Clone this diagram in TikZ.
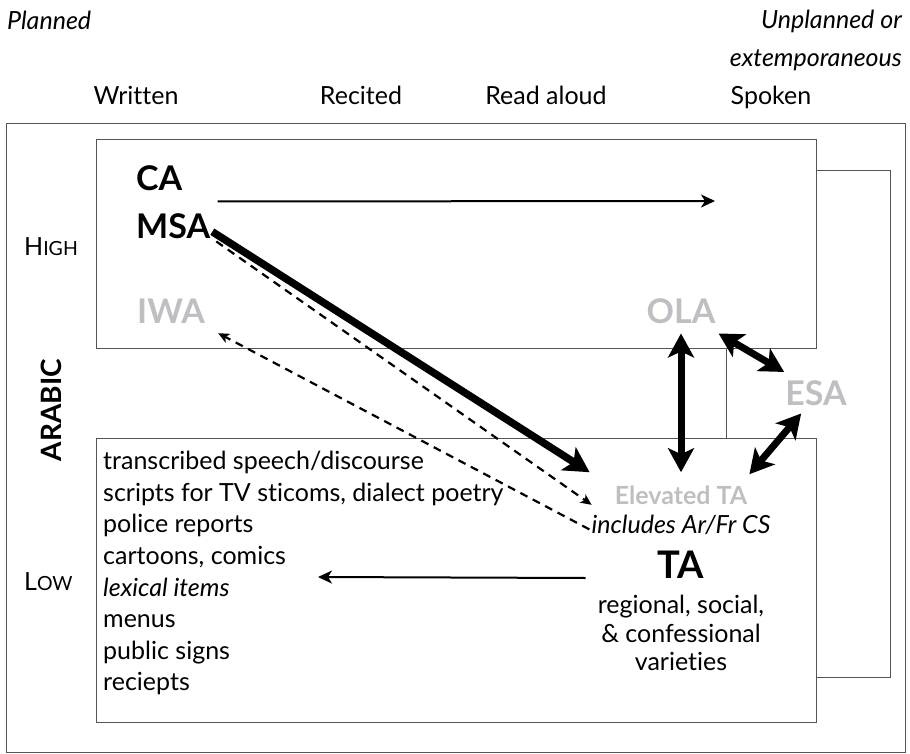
\documentclass[tikz,border=0pt]{standalone}
\usepackage{fontspec}
\setmainfont{Lato}[Ligatures={NoCommon,NoContextual}, Contextuals=NoAlternate]
\usetikzlibrary{arrows.meta,positioning}

\definecolor{fadedgray}{RGB}{190,191,195}
\definecolor{boxgray}{RGB}{85,85,85}

\tikzset{
  every node/.style={inner sep=0pt, font=\fontsize{25}{31}\selectfont},
  variety/.style={font=\fontsize{34}{36}\selectfont\bfseries},
  faded/.style={variety, text=fadedgray},
  frame/.style={draw=boxgray, line width=1pt},
  thinarrow/.style={-{Stealth[length=14pt,width=13pt,inset=4pt]}, line width=2pt},
  dasharrow/.style={-{Stealth[length=11pt,width=10pt,inset=3pt]}, line width=2.2pt, dash pattern=on 8pt off 6pt},
  thickarrow/.style={-{Stealth[length=25pt,width=27pt,inset=6pt]}, line width=7.5pt},
  bothways/.style={{Stealth[length=24pt,width=26pt,inset=6pt]}-{Stealth[length=24pt,width=26pt,inset=6pt]}, line width=7pt},
}

\begin{document}
\begin{tikzpicture}[x=1pt,y=-1pt]
\useasboundingbox (0,0) rectangle (910,754);

% boxes
\draw[frame] (6,124) rectangle (905,752);
\draw[frame] (96,140) rectangle (816,348);
\draw[frame] (96,438) rectangle (816,722);
\draw[frame] (726,348) -- (726,438);
\draw[frame] (816,171) -- (890,171) -- (890,677) -- (816,677);

% scale of planning
\node[anchor=base west, font=\fontsize{25}{31}\selectfont\itshape] (planned) at (7,30) {Planned};
\node[anchor=north east, align=right, font=\fontsize{25}{38}\selectfont\itshape] (unplanned) at (902,10) {Unplanned or\\extemporaneous};

\node[anchor=base] (written) at (136,105) {Written};
\node[anchor=base] (recited) at (361,105) {Recited};
\node[anchor=base] (readaloud) at (546,105) {Read aloud};
\node[anchor=base] (spokenlbl) at (771,105) {Spoken};

% registers
\node[anchor=base west] (high) at (24,255) {H{\fontsize{19.5}{20}\selectfont IGH}};
\node[anchor=base west] (low) at (24,590) {L{\fontsize{19.5}{20}\selectfont OW}};
\node[rotate=90, font=\fontsize{28}{30}\selectfont\bfseries] (arabic) at (51,410) {ARABIC};

% varieties
\node[variety, anchor=base west] (CA) at (136,191) {CA};
\node[variety, anchor=base west] (MSA) at (136,239) {MSA};
\node[faded, anchor=base west] (IWA) at (137,323) {IWA};
\node[faded, anchor=base] (OLA) at (681,323) {OLA};
\node[faded, anchor=base] (ESA) at (816,405) {ESA};

\node[anchor=base, font=\fontsize{25}{31}\selectfont\bfseries, text=fadedgray] (elevTA) at (681,504) {Elevated TA};
\node[anchor=base, font=\fontsize{25}{31}\selectfont\itshape] (incl) at (681,533) {includes Ar/Fr CS};
\node[anchor=base, font=\fontsize{38}{40}\selectfont\bfseries] (TA) at (681,578) {TA};
\node[anchor=north, align=center, font=\fontsize{25}{28.5}\selectfont] (kinds) at (681,595) {regional, social,\\\& confessional\\varieties};

\node[anchor=north west, align=left, font=\fontsize{25}{31.6}\selectfont] (lowlist) at (103,451)
  {transcribed speech/discourse\\scripts for TV sticoms, dialect poetry\\police reports\\cartoons, comics\\\textit{lexical items}\\menus\\public signs\\reciepts};

% connectors
\coordinate (spoken) at (715,201);
\coordinate (lexical) at (318,577);
\draw[thinarrow] ([shift={(35,10)}]CA.south east) -- (spoken);
\draw[thickarrow] ([shift={(2,5)}]MSA.east) -- ([shift={(-25,-13)}]elevTA.north west);
\draw[dasharrow] ([shift={(6,2)}]MSA.south east) -- ([shift={(-23,10)}]elevTA.west);
\draw[dasharrow] ([shift={(-2,5)}]incl.west) -- ([shift={(13,10)}]IWA.south east);
\draw[bothways] ([shift={(0,10)}]OLA.south) -- ([shift={(0,-13)}]elevTA.north);
\draw[bothways] ([shift={(3,10)}]OLA.south east) -- ([shift={(-1,-8)}]ESA.north west);
\draw[bothways] ([shift={(16,8)}]ESA.south west) -- ([shift={(2,-11)}]elevTA.north east);
\draw[thinarrow] ([shift={(-72,0)}]TA.base west) -- (lexical);
\end{tikzpicture}
\end{document}
